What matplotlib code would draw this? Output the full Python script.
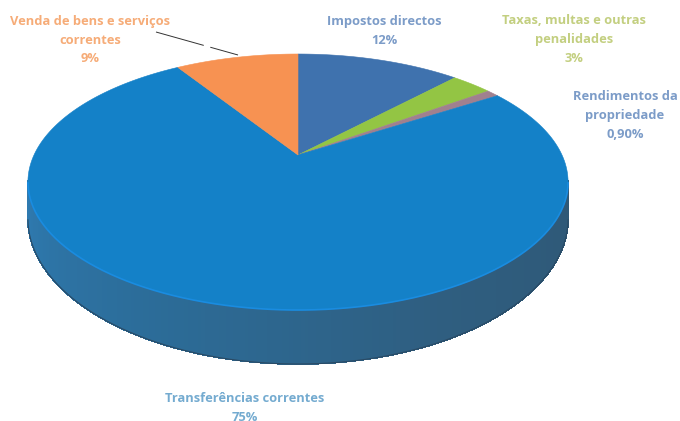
import numpy as np
import matplotlib.pyplot as plt
from matplotlib.collections import PolyCollection
from matplotlib.colors import LinearSegmentedColormap

# dados
categorias = ['Impostos directos', 'Taxas, multas e outras\npenalidades', 'Rendimentos da\npropriedade',
              'Transferências correntes', 'Venda de bens e serviços\ncorrentes']
valores = [12, 3, 0.9, 75, 9]
rotulos = ['12%', '3%', '0,90%', '75%', '9%']
cores = ['#3F72AE', '#93C544', '#A0808F', '#1481C8', '#F79252']
cores_texto = ['#7C9CC8', '#C3CF80', '#7C9CC8', '#74ABD0', '#F6AC78']

# posicao dos textos
pos_texto = [(384, 31), (574, 39), (625, 115), (245, 408), (90, 40)]

# perspetiva da tarte
cx, cy = 298, 155
bx, ay, k = 264, 122.3, 0.211
prof = 54


def proj(ang):
    u, v = np.sin(ang), np.cos(ang)
    d = 1 + k * v
    return cx + bx * u / d, cy - ay * v / d


fig = plt.figure(figsize=(6.8, 4.21), dpi=100)
ax = fig.add_axes([0, 0, 1, 1])
ax.set_xlim(0, 680)
ax.set_ylim(421, 0)
ax.axis('off')

# lateral
t = np.linspace(np.pi * 0.57, np.pi * 1.43, 240)
xs, ys = proj(t)
h = prof * (0.789 / (1 + k * np.cos(t))) ** 2
cm = LinearSegmentedColormap.from_list('lat', ['#2F5876', '#2F5E80', '#2C6C98', '#2E7AB0'])
ax.fill(np.r_[xs, xs[::-1]], np.r_[ys - 2, (ys + h)[::-1]], color='#2F6488', lw=0)
quads = []
for i in range(len(t) - 1):
    quads.append([(xs[i], ys[i] - 2), (xs[i + 1], ys[i + 1] - 2),
                  (xs[i + 1], ys[i + 1] + h[i + 1]), (xs[i], ys[i] + h[i])])
pc = PolyCollection(quads, array=np.linspace(0, 1, len(quads)), cmap=cm, edgecolors='face',
                    linewidths=0.6, antialiased=False)
ax.add_collection(pc)
ax.plot(xs, ys + h, color='#2A4A64', lw=0.8)

# fatias
fim = np.cumsum(valores) / np.sum(valores) * 2 * np.pi
ini = np.r_[0, fim[:-1]]
for a, b, c in zip(ini, fim, cores):
    ang = np.linspace(a, b, 200)
    x, y = proj(ang)
    ax.fill(np.r_[cx, x], np.r_[cy, y], color=c, lw=0.4)

# brilho na borda da frente
ax.plot(xs, ys, color='#1A8CE0', lw=1.2)

# linha de chamada
ax.plot([156, 238], [32, 55], color='#333333', lw=0.7, dashes=(51, 7))

for nome, rot, cor, (tx, ty) in zip(categorias, rotulos, cores_texto, pos_texto):
    ax.text(tx, ty, nome + '\n' + rot, color=cor, ha='center', va='center', fontsize=9.3,
            fontweight='bold', family='Open Sans', linespacing=1.6)

fig.savefig('out.png', dpi=100)
